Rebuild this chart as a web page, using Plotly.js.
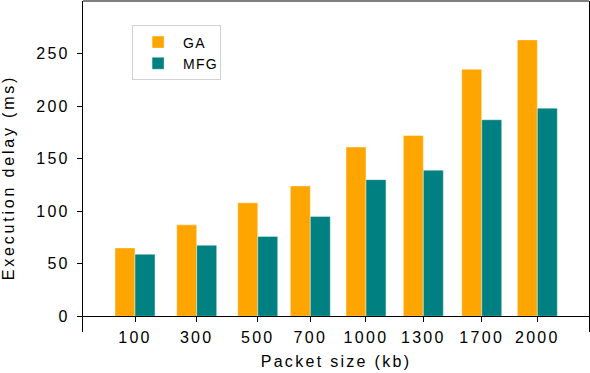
<!DOCTYPE html>
<html>
<head>
<meta charset="utf-8">
<script src="https://cdn.plot.ly/plotly-3.0.1.min.js"></script>
<style>
  body { margin: 0; background: #fff; }
  /* the reference text is drawn a little wider than plain Arial */
  #plotArea text { letter-spacing: 2.3px; }
  #plotArea .legendtext { letter-spacing: 1.2px; }
  #plotArea .annotation-text { letter-spacing: 2.8px; }
</style>
</head>
<body>
<div id="plotArea" style="width:590px;height:373px;"></div>
<script>
// packet sizes (kb) and where each group sits on the x axis
var sizes = ["100", "300", "500", "700", "1000", "1300", "1700", "2000"];
var xPos = [1.0, 2.075, 3.138, 4.054, 5.024, 6.023, 7.04, 8.009];

// execution delay (ms)
var gaDelay = [65, 87, 108, 124, 161, 172, 235, 263];
var mfgDelay = [59, 67.5, 76, 95, 130, 139, 187, 198];

var yTicks = [0, 50, 100, 150, 200, 250];

var barW = 0.348;

var ga = {
    x: xPos,
    y: gaDelay,
    name: "GA",
    type: "bar",
    width: barW,
    offset: -barW,
    marker: {color: "#FFA500", line: {color: "rgba(255,255,255,0.5)", width: 0.8}}
};

var mfg = {
    x: xPos,
    y: mfgDelay,
    name: "MFG",
    type: "bar",
    width: barW,
    offset: 0,
    marker: {color: "#008080", line: {color: "rgba(255,255,255,0.5)", width: 0.8}}
};

var data = [ga, mfg];

var font = {family: "Liberation Sans, Arial, sans-serif", size: 16, color: "#000"};

var layout = {
    width: 590,
    height: 373,
    margin: {l: 83, r: 1, t: 1, b: 41, pad: 0},
    paper_bgcolor: "#fff",
    plot_bgcolor: "#fff",
    font: font,
    barmode: "overlay",
    showlegend: true,
    legend: {
        x: 0.097, y: 0.926, xanchor: "left", yanchor: "top",
        bgcolor: "#fff", bordercolor: "#d0d0d0", borderwidth: 1,
        font: {family: font.family, size: 14, color: "#000"},
        itemwidth: 40,
        tracegroupgap: 0
    },
    xaxis: {
        range: [0.094, 8.909],
        tickvals: xPos,
        ticktext: sizes,
        ticks: "outside",
        ticklen: 5,
        tickcolor: "#000",
        showline: true,
        linecolor: "#000",
        linewidth: 1,
        showgrid: false,
        zeroline: false,
        anchor: "free",
        position: 16 / 331,
        ticklabelstandoff: 2,
        title: {text: "Packet size (kb)", font: font, standoff: 10}
    },
    yaxis: {
        range: [-15, 300],
        tickvals: yTicks,
        ticks: "outside",
        ticklen: 5,
        tickcolor: "#000",
        showline: true,
        mirror: true,
        linecolor: "#000",
        linewidth: 1,
        showgrid: false,
        zeroline: false,
        ticklabelstandoff: 4
    },
    shapes: [
        // top spine
        {type: "line", xref: "paper", yref: "paper", x0: 0, x1: 1, y0: 1, y1: 1,
         line: {color: "#000", width: 1}}
    ],
    annotations: [
        {text: "Execution delay (ms)", textangle: -90, showarrow: false,
         xref: "paper", yref: "paper", x: -0.148, y: 0.465,
         xanchor: "center", yanchor: "middle", font: font}
    ]
};

Plotly.newPlot("plotArea", data, layout, {displayModeBar: false, staticPlot: true});
</script>
</body>
</html>
